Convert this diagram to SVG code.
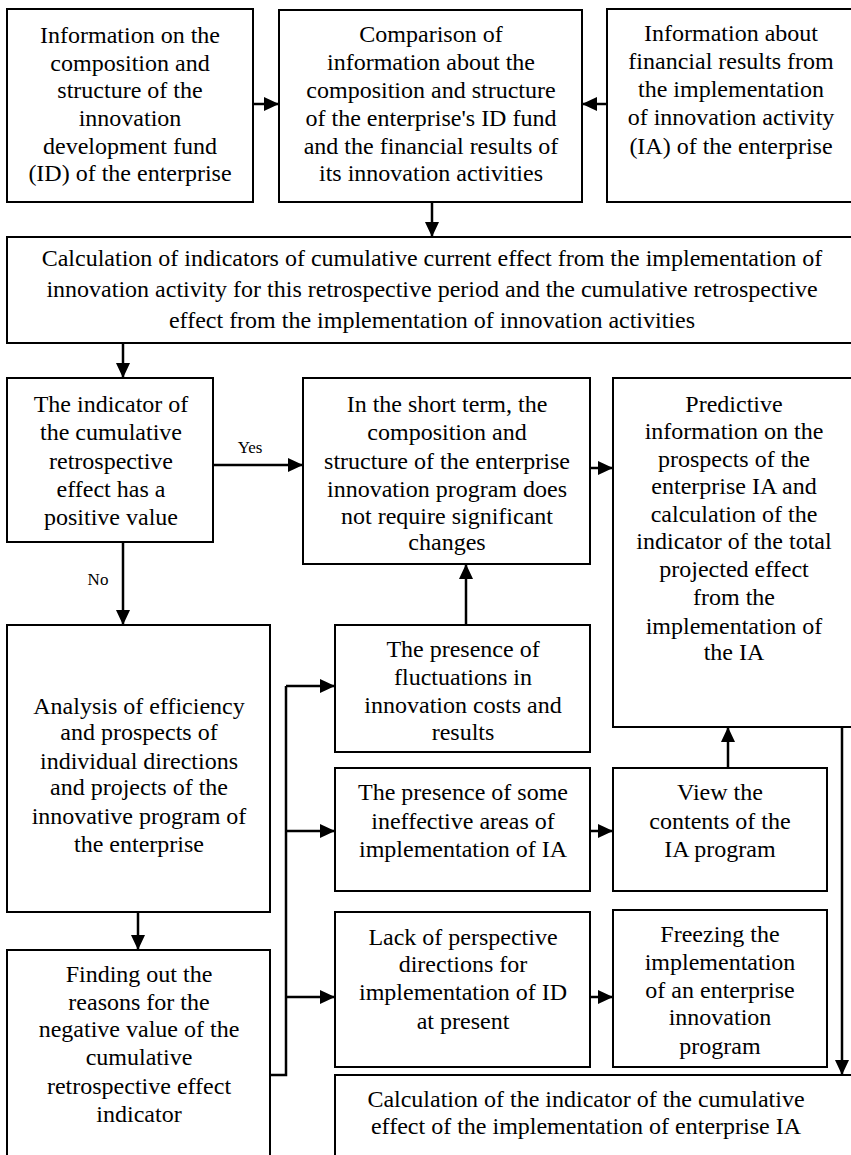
<svg xmlns="http://www.w3.org/2000/svg" width="851" height="1155" viewBox="0 0 851 1155">
  <style>
    .box { fill: #ffffff; stroke: #000000; stroke-width: 2; }
    text { font-family: "Liberation Serif", "Times New Roman", Times, Tinos, "Nimbus Roman", "Noto Serif", "DejaVu Serif", FreeSerif, serif; fill: #000000; text-anchor: middle; }
    .t { font-size: 24px; }
    .lbl { font-size: 17px; }
    .c { fill: none; stroke: #000000; stroke-width: 2.5; }
  </style>
  <defs>
    <marker id="arrow" markerUnits="userSpaceOnUse" markerWidth="16" markerHeight="14" refX="15" refY="7" orient="auto">
      <path d="M0,0 L15,7 L0,14 z" fill="#000000"/>
    </marker>
  </defs>
  <rect width="851" height="1155" fill="#ffffff"/>

  <!-- Top row -->
  <g id="fund-info">
    <rect class="box" x="7" y="9" width="246" height="193"/>
    <text class="t"><tspan x="130" y="43">Information on the</tspan><tspan x="130" y="71">composition and</tspan><tspan x="130" y="98">structure of the</tspan><tspan x="130" y="126">innovation</tspan><tspan x="130" y="154">development fund</tspan><tspan x="130" y="181">(ID) of the enterprise</tspan></text>
  </g>
  <g id="comparison">
    <rect class="box" x="279" y="10" width="303" height="192"/>
    <text class="t"><tspan x="431" y="42">Comparison of</tspan><tspan x="431" y="70">information about the</tspan><tspan x="431" y="98">composition and structure</tspan><tspan x="431" y="126">of the enterprise's ID fund</tspan><tspan x="431" y="154">and the financial results of</tspan><tspan x="431" y="181">its innovation activities</tspan></text>
  </g>
  <g id="financial-info">
    <rect class="box" x="607" y="9" width="250" height="193"/>
    <text class="t"><tspan x="731" y="41">Information about</tspan><tspan x="731" y="69">financial results from</tspan><tspan x="731" y="97">the implementation</tspan><tspan x="731" y="125">of innovation activity</tspan><tspan x="731" y="154">(IA) of the enterprise</tspan></text>
  </g>

  <!-- Wide calculation block -->
  <g id="cumulative-calc">
    <rect class="box" x="7" y="237" width="850" height="106"/>
    <text class="t"><tspan x="432" y="266">Calculation of indicators of cumulative current effect from the implementation of</tspan><tspan x="432" y="297">innovation activity for this retrospective period and the cumulative retrospective</tspan><tspan x="432" y="328">effect from the implementation of innovation activities</tspan></text>
  </g>

  <!-- Decision and outcomes -->
  <g id="decision">
    <rect class="box" x="7" y="378" width="206" height="164"/>
    <text class="t"><tspan x="111" y="412">The indicator of</tspan><tspan x="111" y="440">the cumulative</tspan><tspan x="111" y="469">retrospective</tspan><tspan x="111" y="497">effect has a</tspan><tspan x="111" y="525">positive value</tspan></text>
  </g>
  <g id="short-term">
    <rect class="box" x="303" y="378" width="287" height="186"/>
    <text class="t"><tspan x="447" y="412">In the short term, the</tspan><tspan x="447" y="440">composition and</tspan><tspan x="447" y="469">structure of the enterprise</tspan><tspan x="447" y="497">innovation program does</tspan><tspan x="447" y="524">not require significant</tspan><tspan x="447" y="550">changes</tspan></text>
  </g>
  <g id="predictive">
    <rect class="box" x="613" y="378" width="244" height="349"/>
    <text class="t"><tspan x="734" y="412">Predictive</tspan><tspan x="734" y="439">information on the</tspan><tspan x="734" y="467">prospects of the</tspan><tspan x="734" y="494">enterprise IA and</tspan><tspan x="734" y="522">calculation of the</tspan><tspan x="734" y="549">indicator of the total</tspan><tspan x="734" y="577">projected effect</tspan><tspan x="734" y="605">from the</tspan><tspan x="734" y="634">implementation of</tspan><tspan x="734" y="660">the IA</tspan></text>
  </g>

  <!-- Analysis branch -->
  <g id="analysis">
    <rect class="box" x="7" y="625" width="263" height="287"/>
    <text class="t"><tspan x="139" y="714">Analysis of efficiency</tspan><tspan x="139" y="740">and prospects of</tspan><tspan x="139" y="769">individual directions</tspan><tspan x="139" y="795">and projects of the</tspan><tspan x="139" y="824">innovative program of</tspan><tspan x="139" y="852">the enterprise</tspan></text>
  </g>
  <g id="reasons">
    <rect class="box" x="7" y="950" width="263" height="220"/>
    <text class="t"><tspan x="139" y="982">Finding out the</tspan><tspan x="139" y="1010">reasons for the</tspan><tspan x="139" y="1037">negative value of the</tspan><tspan x="139" y="1065">cumulative</tspan><tspan x="139" y="1094">retrospective effect</tspan><tspan x="139" y="1122">indicator</tspan></text>
  </g>
  <g id="fluctuations">
    <rect class="box" x="335" y="625" width="255" height="127"/>
    <text class="t"><tspan x="463" y="657">The presence of</tspan><tspan x="463" y="685">fluctuations in</tspan><tspan x="463" y="713">innovation costs and</tspan><tspan x="463" y="740">results</tspan></text>
  </g>
  <g id="ineffective">
    <rect class="box" x="335" y="768" width="255" height="123"/>
    <text class="t"><tspan x="463" y="800">The presence of some</tspan><tspan x="463" y="829">ineffective areas of</tspan><tspan x="463" y="857">implementation of IA</tspan></text>
  </g>
  <g id="lack">
    <rect class="box" x="335" y="912" width="255" height="155"/>
    <text class="t"><tspan x="463" y="945">Lack of perspective</tspan><tspan x="463" y="972">directions for</tspan><tspan x="463" y="1000">implementation of ID</tspan><tspan x="463" y="1029">at present</tspan></text>
  </g>
  <g id="view">
    <rect class="box" x="613" y="768" width="214" height="123"/>
    <text class="t"><tspan x="720" y="800">View the</tspan><tspan x="720" y="829">contents of the</tspan><tspan x="720" y="857">IA program</tspan></text>
  </g>
  <g id="freezing">
    <rect class="box" x="613" y="910" width="214" height="157"/>
    <text class="t"><tspan x="720" y="942">Freezing the</tspan><tspan x="720" y="970">implementation</tspan><tspan x="720" y="998">of an enterprise</tspan><tspan x="720" y="1025">innovation</tspan><tspan x="720" y="1054">program</tspan></text>
  </g>
  <g id="total-calc">
    <rect class="box" x="335" y="1075" width="522" height="100"/>
    <text class="t"><tspan x="586" y="1107">Calculation of the indicator of the cumulative</tspan><tspan x="586" y="1134">effect of the implementation of enterprise IA</tspan></text>
  </g>

  <!-- Connectors -->
  <g id="connectors">
    <line class="c" x1="253" y1="104" x2="279" y2="104" marker-end="url(#arrow)"/>
    <line class="c" x1="607" y1="104" x2="582" y2="104" marker-end="url(#arrow)"/>
    <line class="c" x1="432" y1="202" x2="432" y2="237" marker-end="url(#arrow)"/>
    <line class="c" x1="123" y1="343" x2="123" y2="378" marker-end="url(#arrow)"/>
    <line class="c" x1="213" y1="465" x2="303" y2="465" marker-end="url(#arrow)"/>
    <line class="c" x1="123" y1="542" x2="123" y2="625" marker-end="url(#arrow)"/>
    <line class="c" x1="590" y1="468" x2="613" y2="468" marker-end="url(#arrow)"/>
    <line class="c" x1="466" y1="625" x2="466" y2="564" marker-end="url(#arrow)"/>
    <line class="c" x1="138" y1="912" x2="138" y2="950" marker-end="url(#arrow)"/>
    <polyline class="c" points="270,1075 286,1075 286,686"/>
    <line class="c" x1="286" y1="686" x2="335" y2="686" marker-end="url(#arrow)"/>
    <line class="c" x1="286" y1="831" x2="335" y2="831" marker-end="url(#arrow)"/>
    <line class="c" x1="286" y1="997" x2="335" y2="997" marker-end="url(#arrow)"/>
    <line class="c" x1="590" y1="831" x2="613" y2="831" marker-end="url(#arrow)"/>
    <line class="c" x1="590" y1="997" x2="613" y2="997" marker-end="url(#arrow)"/>
    <line class="c" x1="728" y1="768" x2="728" y2="727" marker-end="url(#arrow)"/>
    <line class="c" x1="842" y1="727" x2="842" y2="1075" marker-end="url(#arrow)"/>
    <text class="lbl" x="250" y="453">Yes</text>
    <text class="lbl" x="98" y="585">No</text>
  </g>
</svg>
